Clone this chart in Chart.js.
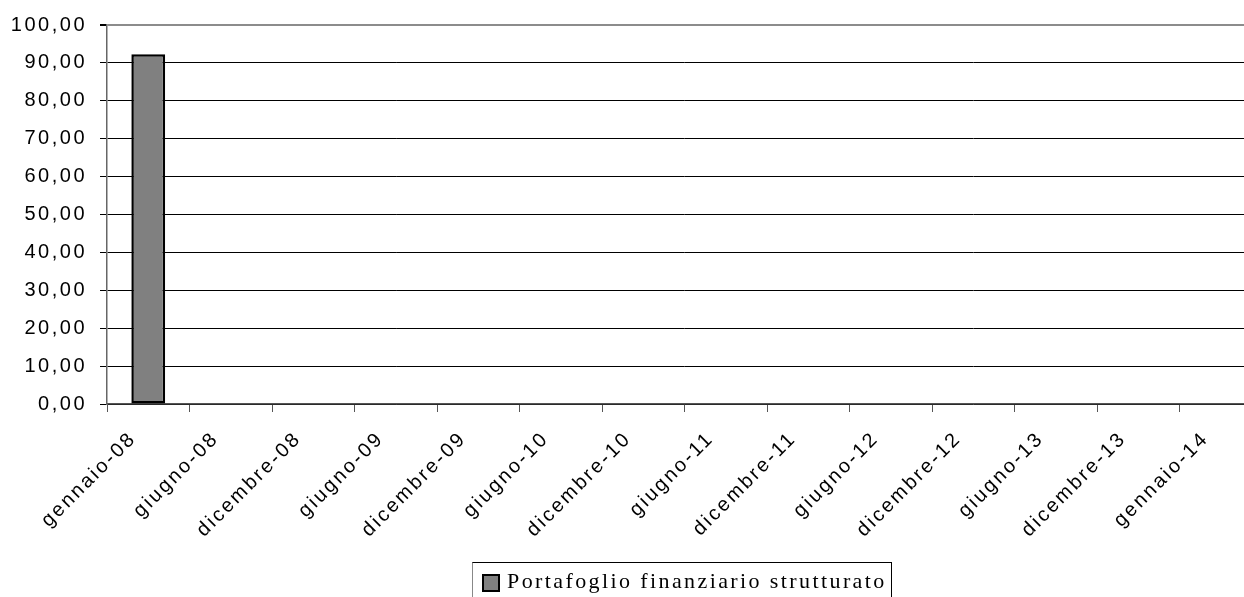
<!DOCTYPE html>
<html>
<head>
<meta charset="utf-8">
<script src="https://cdn.jsdelivr.net/npm/chart.js@4"></script>
<style>
  html, body { margin: 0; padding: 0; background: #fff; overflow: hidden; }
  #wrap { position: relative; width: 1262px; height: 597px; }
  #legend {
    position: absolute; left: 472px; top: 562px; width: 420px; height: 40px;
    border: 1px solid #000; border-left-color: #888;
    box-sizing: border-box; overflow: hidden;
    font-family: "Liberation Serif", "Times New Roman", serif; font-size: 22px;
    letter-spacing: 2.4px; white-space: nowrap;
  }
  #legend .box {
    position: absolute; left: 9px; top: 11px; width: 14px; height: 14px;
    background: #808080; border: 2px solid #000;
  }
  #legend .txt {
    position: absolute; left: 34px; top: 7px; line-height: 22px;
  }
</style>
</head>
<body>
<div id="wrap">
  <canvas id="chart" width="1262" height="597"></canvas>
  <div id="legend"><span class="box"></span><span class="txt">Portafoglio finanziario strutturato</span></div>
</div>
<script>
const categories = [
  "gennaio-08", "giugno-08", "dicembre-08", "giugno-09", "dicembre-09",
  "giugno-10", "dicembre-10", "giugno-11", "dicembre-11", "giugno-12",
  "dicembre-12", "giugno-13", "dicembre-13", "gennaio-14"
];
const seriesName = "Portafoglio finanziario strutturato";
const values = [92.3, 0, 0, 0, 0, 0, 0, 0, 0, 0, 0, 0, 0, 0];
const yTicks = [0, 10, 20, 30, 40, 50, 60, 70, 80, 90, 100];

// the original text is set with wide tracking
const spacing = {
    id: "spacing",
    beforeLayout(chart) { chart.ctx.letterSpacing = "2.5px"; },
    beforeDraw(chart) { chart.ctx.letterSpacing = "2.5px"; }
};

const ctx = document.getElementById("chart");

new Chart(ctx, {
    type: "bar",
    data: {
        labels: categories,
        datasets: [{
            label: seriesName,
            data: values,
            backgroundColor: "#808080",
            borderColor: "#000",
            borderWidth: 2.5,
            borderSkipped: false,
            barPercentage: 0.41,
            categoryPercentage: 1
        }]
    },
    options: {
        responsive: false,
        animation: false,
        layout: { padding: { top: 25, left: 0, right: 0, bottom: 0 } },
        plugins: {
            legend: { display: false },
            tooltip: { enabled: false }
        },
        scales: {
            x: {
                grid: {
                    offset: true,
                    drawOnChartArea: false,
                    tickLength: 8,
                    color: "#555"
                },
                border: { color: "#555", width: 1.5 },
                ticks: {
                    color: "#000",
                    font: { family: "Liberation Sans", size: 20 },
                    minRotation: 45,
                    maxRotation: 45,
                    autoSkip: false,
                    labelOffset: -15,
                    padding: 15
                },
                afterFit: function(scale) { scale.height = 193; }
            },
            y: {
                min: 0,
                max: 100,
                afterBuildTicks: function(scale) {
                    scale.ticks = yTicks.map(v => ({ value: v }));
                },
                grid: {
                    tickLength: 7,
                    color: function(c) {
                        if (c.tick && c.tick.value === 100) return "#8c8c8c";
                        return "#000";
                    },
                    lineWidth: function(c) {
                        return c.tick && c.tick.value === 100 ? 2 : 1;
                    },
                    tickColor: "#000"
                },
                border: { color: "#666", width: 1.5 },
                ticks: {
                    color: "#000",
                    font: { family: "Liberation Sans", size: 20 },
                    padding: 13,
                    callback: v => v.toFixed(2).replace(".", ",")
                },
                afterFit: function(scale) { scale.width = 107; }
            }
        }
    },
    plugins: [spacing]
});
</script>
</body>
</html>
